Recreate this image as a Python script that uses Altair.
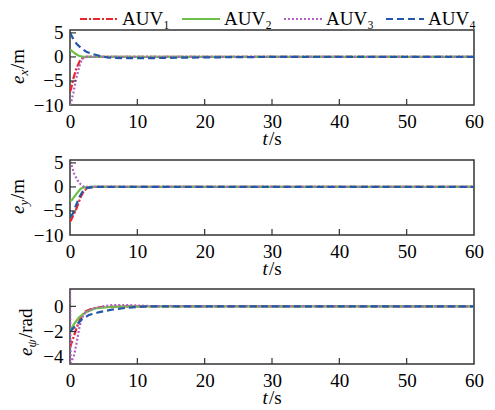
import altair as alt
import pandas as pd

FONT = "Liberation Serif"
names = ["AUV₁", "AUV₂", "AUV₃", "AUV₄"]
colors = ["#e8262b", "#6dbf47", "#b160c2", "#2358a8"]
dashes = [[7, 2, 2, 2], [1, 0], [2, 2], [7, 4]]

# ---- panel 1: e_x ----
ex_t1 = [0, 0.15, 0.5, 0.9, 1.3, 1.6, 2.0, 2.5, 3, 5, 10, 60]
ex_v1 = [-7.2, -6.7, -4.5, -2.6, -1.3, -0.5, -0.1, 0, 0, 0, 0, 0]
ex_t2 = [0, 0.4, 0.9, 1.4, 1.8, 2.5, 4, 60]
ex_v2 = [1.6, 1.1, 0.55, 0.2, 0.05, 0, 0, 0]
ex_t3 = [0, 0.15, 0.5, 0.9, 1.4, 1.8, 2.3, 3, 60]
ex_v3 = [-10, -9.5, -7.5, -4.6, -1.9, -0.4, 0, 0, 0]
ex_t4 = [0, 0.5, 1.0, 1.6, 2.5, 3.5, 4.5, 5.7, 8, 12, 20, 30, 60]
ex_v4 = [5.0, 3.7, 2.7, 1.9, 1.0, 0.55, 0.2, -0.15, -0.25, -0.25, -0.1, 0, 0]

# ---- panel 2: e_y ----
ey_t1 = [0, 0.15, 0.6, 0.96, 1.3, 1.6, 2.1, 2.8, 3.5, 60]
ey_v1 = [-7.2, -6.9, -5.6, -4.5, -3.2, -2.1, -0.7, -0.15, 0, 0]
ey_t2 = [0, 0.3, 0.6, 1.1, 1.6, 2.1, 3, 60]
ey_v2 = [-2.9, -2.7, -2.1, -1.2, -0.35, -0.07, 0, 0]
ey_t3 = [0, 0.15, 0.6, 1.1, 1.6, 2.1, 3, 60]
ey_v3 = [5.3, 4.9, 2.8, 1.4, 0.5, 0, 0, 0]
ey_t4 = [0, 0.4, 0.9, 1.4, 1.9, 2.6, 3.5, 60]
ey_v4 = [-6.25, -5.6, -3.8, -2.1, -0.9, -0.2, 0, 0]

# ---- panel 3: e_psi ----
ep_t1 = [0, 0.3, 0.6, 1.1, 1.6, 2.3, 3.3, 4.7, 8, 60]
ep_v1 = [-3.26, -2.8, -2.33, -1.54, -0.87, -0.4, -0.16, -0.05, 0, 0]
ep_t2 = [0, 0.6, 1.35, 2.3, 3.75, 6.2, 9, 60]
ep_v2 = [-2.0, -1.4, -0.87, -0.48, -0.16, -0.03, 0, 0]
ep_t3 = [0, 0.1, 0.6, 1.0, 1.35, 1.7, 2.3, 3.3, 4.7, 6.2, 8.6, 12, 60]
ep_v3 = [1.6, -4.5, -3.9, -2.86, -1.8, -1.0, -0.48, -0.2, 0, 0.1, 0.1, 0.03, 0]
ep_t4 = [0, 0.87, 1.8, 2.8, 4.2, 6.2, 8.6, 11.4, 60]
ep_v4 = [-2.0, -1.54, -1.0, -0.69, -0.48, -0.26, -0.1, 0, 0]

x_ticks = [0, 10, 20, 30, 40, 50, 60]
x_inner = [10, 20, 30, 40, 50]
y_ticks_xy = [-10, -5, 0, 5]
y_inner_xy = [-5, 0, 5]
y_ticks_p = [-4, -2, 0]
y_inner_p = [-2, 0]
y_titles = [("e", "x", "/m"), ("e", "y", "/m"), ("e", "ψ", "/rad")]
x_title = ("t", "/s")

W = 404


def make_df(ts, vs):
    rows = []
    for k, (tt, vv) in enumerate(zip(ts, vs)):
        for t, v in zip(tt, vv):
            rows.append({"t": t, "v": v, "AUV": names[k]})
    return pd.DataFrame(rows)


leg = alt.Legend(orient="none", legendX=18, legendY=-22, direction="horizontal", title=None,
                 symbolType="M-2,0H2", symbolSize=361, symbolStrokeWidth=2.2,
                 labelFont=FONT, labelFontSize=19, labelColor="black", labelOffset=12,
                 columnPadding=7, padding=0)


def txt(s, x, y, size, italic, angle=0, dx=0, dy=0):
    return alt.Chart(pd.DataFrame({"s": [s]})).mark_text(
        font=FONT, fontSize=size, fontStyle="italic" if italic else "normal",
        angle=angle, align="left", baseline="alphabetic", dx=dx, dy=dy, color="black"
    ).encode(x=alt.value(x), y=alt.value(y), text="s:N")


def panel(df, H, ydom, yt, yin, ttl, tx, ty, subw):
    X = alt.X("t:Q", scale=alt.Scale(domain=[0, 60], nice=False, zero=False),
              axis=alt.Axis(values=x_ticks, ticks=False, domain=False, grid=False, labelFont=FONT,
                            labelFontSize=19, labelColor="black", labelPadding=7, labelFlush=False,
                            title=None))
    Y = alt.Y("v:Q", scale=alt.Scale(domain=ydom, nice=False, zero=False),
              axis=alt.Axis(values=yt, ticks=False, domain=False, grid=False, labelFont=FONT,
                            labelFontSize=19, labelColor="black", labelPadding=7, title=None))
    lines = alt.Chart(df).mark_line(clip=True, strokeWidth=2.2).encode(
        x=X, y=Y,
        color=alt.Color("AUV:N", scale=alt.Scale(domain=names, range=colors), legend=leg),
        strokeDash=alt.StrokeDash("AUV:N", scale=alt.Scale(domain=names, range=dashes), legend=leg),
    )
    xt = alt.Chart(pd.DataFrame({"t": x_inner})).mark_rule(color="#333", strokeWidth=1.2).encode(
        x=X, y=alt.value(H), y2=alt.value(H - 6))
    ytk = alt.Chart(pd.DataFrame({"v": yin})).mark_rule(color="#333", strokeWidth=1.2).encode(
        y=Y, x=alt.value(0), x2=alt.value(6))
    e, sub, unit = ttl
    layers = [lines, xt, ytk,
              txt(e, tx, ty, 19, True, 270),
              txt(sub, tx, ty, 13, True, 270, dx=8.5, dy=4),
              txt(unit, tx, ty, 19, False, 270, dx=8.5 + subw),
              txt(x_title[0], W / 2 - 9.5, H + 40, 19, True),
              txt(x_title[1], W / 2 - 9.5, H + 40, 19, False, dx=6.5)]
    return alt.layer(*layers).properties(width=W, height=H)


p1 = panel(make_df([ex_t1, ex_t2, ex_t3, ex_t4], [ex_v1, ex_v2, ex_v3, ex_v4]), 75, [-10, 5.6],
           y_ticks_xy, y_inner_xy, y_titles[0], -46, 54, 6.5)
p2 = panel(make_df([ey_t1, ey_t2, ey_t3, ey_t4], [ey_v1, ey_v2, ey_v3, ey_v4]), 75, [-10, 5.6],
           y_ticks_xy, y_inner_xy, y_titles[1], -46, 54, 6.5)
p3 = panel(make_df([ep_t1, ep_t2, ep_t3, ep_t4], [ep_v1, ep_v2, ep_v3, ep_v4]), 75, [-4.58, 1.38],
           y_ticks_p, y_inner_p, y_titles[2], -38, 67, 9.5)

chart = alt.vconcat(alt.vconcat(p1, p2, spacing=3), p3, spacing=8).properties(
    padding=0
).configure_view(stroke="#333", strokeWidth=1.5)

chart.save("out.html", embed_options={"renderer": "svg", "actions": False})
